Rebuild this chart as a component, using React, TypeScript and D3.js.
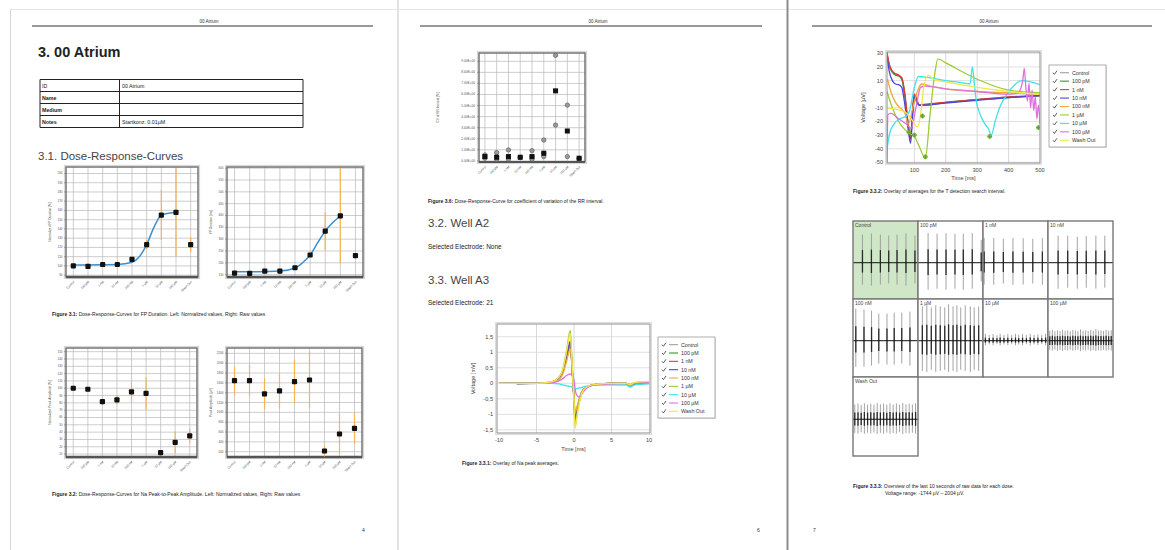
import React from "react";
import * as d3 from "d3";

const FONT = "'Liberation Sans', Arial, Helvetica, sans-serif";

const doses = ["Control", "100 pM", "1 nM", "10 nM", "100 nM", "1 µM", "10 µM", "100 µM", "Wash Out"];
const seriesColors = ["#a0a0a0", "#2e9a2e", "#e53a2f", "#4646e0", "#f5a83a", "#9acd32", "#3de3ea", "#e070e0", "#f4e64a"];

// Figure 3.1 left: normalized FP duration
const fpNormTicks = [90, 100, 110, 120, 130, 140, 150, 160, 170, 180, 190, 200];
const fpNormMean = [100, 99.5, 101.5, 101.5, 107, 123, 155, 158, 123];
const fpNormErr = [0, 0, 0, 0, 0, 5, 27, 48, 8];
const fpNormFitX = [0, 1, 2, 3, 4, 4.5, 5, 5.5, 6, 6.5, 7];
const fpNormFitY = [101, 101, 101.2, 101.5, 104, 110, 123, 142, 155, 157, 158];

// Figure 3.1 right: raw FP duration
const fpRawTicks = [150, 200, 250, 300, 350, 400, 450, 500, 550, 600];
const fpRawMean = [156, 155, 165, 165, 179, 233, 334, 398, 230];
const fpRawErr = [0, 0, 0, 0, 0, 0, 81, 200, 10];
const fpRawFitX = [0, 1, 2, 3, 4, 4.5, 5, 5.5, 6, 6.5, 7];
const fpRawFitY = [162, 162, 163, 165, 178, 200, 233, 285, 334, 370, 398];

// Figure 3.2 left: normalized Na peak-to-peak amplitude
const naNormTicks = [10, 20, 30, 40, 50, 60, 70, 80, 90, 100, 110, 120, 130, 140, 150];
const naNormMean = [100, 98.6, 81.7, 84, 95, 93, 12, 26, 35];
const naNormErr = [0, 0, 4, 6, 14, 22, 3, 15, 10];

// Figure 3.2 right: raw Na peak-to-peak amplitude
const naRawTicks = [200, 400, 600, 800, 1000, 1200, 1400, 1600, 1800, 2000, 2200];
const naRawMean = [1644, 1644, 1374, 1435, 1624, 1658, 214, 560, 676];
const naRawErr = [288, 320, 315, 356, 440, 575, 110, 407, 311];

// Figure 3.6: CV of RR interval
const cvTicks = [0, 1, 2, 3, 4, 5, 6, 7, 8, 9];
const cvMean = [0.39, 0.33, 0.39, 0.33, 0.39, 0.69, 6.33, 2.7, 0.24];
const cvSamples = [
  [0.54, 0.24, 0.39],
  [0.75, 0.39, 0.15],
  [0.99, 0.39, 0.15],
  [0.33, 0.3],
  [0.93, 0.39, 0.15],
  [1.89, 0.69, 0.39],
  [9.54, 3.24],
  [5.04, 0.39],
  [0.24, 0.2],
];

// Figure 3.3.1: Na peak averages (time in ms, voltage in mV)
const naTime = [-10, -7.8, -7.5, -5, -3, -2, -1.5, -1, -0.5, -0.25, 0, 0.15, 0.4, 0.7, 1, 1.5, 2, 3, 5, 7, 7.5, 8, 10];
const naControl = [0, 0, -0.03, 0, 0.03, 0.15, 0.35, 0.8, 1.2, 0.4, -0.5, -1.05, -0.8, -0.5, -0.3, -0.15, -0.08, -0.03, 0, 0, -0.08, -0.02, 0.02];
const na100pM = [0, 0, 0, 0, 0.03, 0.15, 0.35, 0.8, 1.25, 0.45, -0.5, -1.1, -0.85, -0.55, -0.3, -0.15, -0.08, -0.03, 0, -0.02, -0.1, -0.03, 0.03];
const na1nM = [0, 0, 0, 0, 0.04, 0.18, 0.4, 0.9, 1.3, 0.5, -0.6, -1.3, -0.95, -0.6, -0.35, -0.18, -0.1, -0.04, 0, 0, -0.06, 0, 0.04];
const na10nM = [0, 0, 0, 0, 0.04, 0.18, 0.4, 0.9, 1.35, 0.5, -0.55, -1.2, -0.9, -0.55, -0.3, -0.15, -0.08, -0.03, 0, 0, -0.05, 0, 0.03];
const na100nM = [0, 0, 0, 0, 0.03, 0.12, 0.3, 0.7, 1.1, 0.5, -0.4, -0.95, -0.75, -0.5, -0.3, -0.15, -0.08, -0.03, 0, 0, -0.05, 0, 0.03];
const na1uM = [0, 0, 0, 0, 0.05, 0.2, 0.45, 1.05, 1.7, 0.6, -0.6, -1.4, -1.0, -0.6, -0.3, -0.15, -0.08, -0.03, 0, 0, -0.05, 0.02, 0.05];
const na10uM = [0, 0, 0, 0, 0, -0.02, -0.05, -0.08, -0.1, -0.12, -0.15, -0.18, -0.17, -0.15, -0.13, -0.1, -0.08, -0.06, -0.05, -0.06, -0.12, -0.06, -0.02];
const na100uM = [0, 0, 0, 0, 0.02, 0.08, 0.15, 0.25, 0.3, 0.25, 0.1, -0.2, -0.4, -0.45, -0.35, -0.2, -0.1, -0.05, -0.02, 0, -0.04, 0, 0.02];
const naWash = [0, 0, 0, 0, 0.05, 0.2, 0.45, 1.0, 1.6, 0.6, -0.6, -1.45, -1.05, -0.65, -0.35, -0.15, -0.08, -0.03, 0, 0, -0.05, 0.02, 0.06];
const naSeries = [naControl, na100pM, na1nM, na10nM, na100nM, na1uM, na10uM, na100uM, naWash];
const naXTicks = [-10, -5, 0, 5, 10];
const naYTicks = [-1.5, -1, -0.5, 0, 0.5, 1, 1.5];

// Figure 3.3.2: T detection search interval ([time ms, voltage µV])
const tControl = [[13, 30], [20, 22], [30, 17], [40, 15], [50, 14], [60, 12], [70, 0], [80, -20], [88, -30], [95, -10], [100, 0], [108, -4], [115, -8], [130, -8], [200, -6], [300, -4], [400, -2], [500, -1]];
const t100pM = [[13, 29], [20, 21], [30, 16], [40, 14], [50, 13.5], [60, 11], [70, -2], [80, -22], [88, -32], [95, -12], [100, -1], [108, -5], [115, -8], [130, -8], [200, -6], [300, -4], [400, -2.5], [500, -1]];
const t1nM = [[13, 31], [20, 22], [30, 17], [40, 15], [50, 14], [60, 12], [70, 0], [80, -22], [88, -33], [95, -10], [100, 0], [108, -4], [115, -8], [130, -7.5], [200, -6], [300, -4], [400, -2], [500, -1]];
const t10nM = [[13, 28], [20, 17], [30, 10], [40, 7.5], [50, 7], [60, 5], [70, -8], [80, -25], [88, -36], [95, -14], [100, -2], [108, -6], [115, -8], [130, -8], [200, -6.5], [300, -4.5], [400, -2.5], [500, -1]];
const t100nM = [[15, 11], [25, 2], [40, -6], [55, -10], [70, -14], [81, -22], [95, -10], [113, 4], [123, 7.5], [150, 6], [200, 4], [300, 2], [400, 1], [500, 0]];
const t1uM = [[13, 2], [30, -10], [50, -20], [70, -26], [85, -29], [100, -31], [115, -38], [135, -47], [150, -15], [165, 15], [175, 26], [200, 23], [300, 11], [400, 3], [500, 1]];
const t10uM = [[13, -41], [20, -30], [35, -22], [55, -18], [75, -16], [85, -12], [100, 5], [113, 13], [150, 12], [200, 10], [250, 8.5], [277, 7.5], [285, 20], [292, 5], [298, -6], [310, -15], [325, -22], [335, -25], [345, -30], [357, -20], [375, -8], [398, 1], [420, 7], [440, 10], [470, 9], [500, 7]];
const t100uM = [[13, -50], [16, -15], [25, -14], [50, -18], [75, -22], [90, -25], [105, -10], [120, 5], [135, 6], [200, 4], [300, 2], [400, 0], [430, 1], [445, 10], [450, 19], [455, 5], [460, -5], [465, 8], [470, -10], [475, 3], [480, -12], [485, -2], [490, -18], [495, -8], [500, -22]];
const tWash = [[13, -10], [40, -11], [70, -13], [90, -18], [110, -24], [120, -15], [130, 5], [145, 14], [160, 11], [200, 9], [300, 5], [400, 2], [500, 0]];
const tSeries = [tControl, t100pM, t1nM, t10nM, t100nM, t1uM, t10uM, t100uM, tWash];
const tMarkers = [[83, -28], [100, -30], [126, -16], [135, -46], [340, -31], [495, -24.5]];
const tXTicks = [100, 200, 300, 400, 500];
const tYTicks = [30, 20, 10, 0, -10, -20, -30, -40, -50];

// Figure 3.3.3: raw data spikes per dose ([time s, up µV, down µV])
const rawControl = [[1.4, 1350, -1050], [2.8, 1400, -1100], [4.2, 1350, -1050], [5.5, 1300, -1000], [6.8, 1350, -1050], [8.2, 1400, -1100], [9.6, 1300, -1000]];
const raw100pM = [[1.5, 1430, -1300], [2.9, 1400, -1250], [4.3, 1420, -1300], [5.7, 1380, -1250], [7.0, 1400, -1300], [8.4, 1430, -1250], [9.8, 1100, -900]];
const raw1nM = [[0.1, 1200, -1050], [1.6, 1190, -1060], [3.1, 1150, -1000], [4.6, 1190, -1060], [6.2, 1180, -1050], [7.7, 1150, -1000], [9.2, 1190, -1060]];
const raw10nM = [[1.5, 1300, -1250], [3.0, 1300, -1200], [4.5, 1250, -1250], [5.9, 1280, -1200], [7.4, 1300, -1250], [8.8, 1300, -1200]];
const raw100nM = [[0.36, 1540, -1260], [1.64, 1500, -1250], [2.82, 1450, -1200], [3.95, 1300, -1100], [5.23, 1300, -1150], [6.36, 1350, -1150], [7.54, 1350, -1100], [8.82, 1400, -1200]];
const raw1uM = [[0.6, 1650, -1450], [1.3, 1700, -1500], [2.0, 1600, -1400], [2.7, 1700, -1500], [3.4, 1650, -1450], [4.1, 1600, -1400], [4.7, 1750, -1500], [5.4, 1650, -1450], [6.0, 1700, -1500], [6.6, 1600, -1400], [7.3, 1700, -1450], [8.1, 1650, -1500], [8.7, 1600, -1400], [9.4, 1650, -1450]];
const raw10uM = [[0.3, 330, -220], [0.9, 280, -180], [1.5, 320, -220], [2.1, 260, -160], [2.6, 330, -230], [3.2, 280, -180], [3.8, 320, -210], [4.4, 270, -170], [5.0, 330, -220], [5.5, 290, -190], [6.1, 320, -220], [6.7, 270, -170], [7.3, 330, -230], [7.9, 280, -180], [8.5, 310, -210], [9.1, 270, -170], [9.7, 330, -220]];
const raw100uM = [[0.2, 480, -450], [0.6, 520, -470], [1.0, 460, -430], [1.4, 500, -480], [1.8, 470, -440], [2.2, 530, -490], [2.6, 480, -450], [3.0, 500, -470], [3.4, 460, -430], [3.8, 520, -480], [4.2, 490, -460], [4.6, 470, -440], [5.0, 540, -500], [5.4, 480, -450], [5.8, 500, -470], [6.2, 470, -430], [6.6, 520, -490], [7.0, 480, -450], [7.4, 560, -500], [7.8, 490, -460], [8.2, 500, -470], [8.6, 470, -440], [9.0, 520, -480], [9.4, 480, -450], [9.8, 500, -470]];
const rawWash = [[0.2, 700, -650], [0.7, 750, -680], [1.2, 680, -620], [1.7, 760, -690], [2.2, 700, -640], [2.7, 740, -670], [3.2, 690, -630], [3.7, 770, -700], [4.2, 710, -650], [4.7, 740, -680], [5.2, 690, -630], [5.7, 760, -690], [6.2, 700, -650], [6.7, 750, -680], [7.2, 690, -620], [7.7, 770, -700], [8.2, 710, -650], [8.7, 740, -670], [9.2, 700, -640], [9.7, 760, -690]];
const rawSpikes = [rawControl, raw100pM, raw1nM, raw10nM, raw100nM, raw1uM, raw10uM, raw100uM, rawWash];
const rawVoltRange = [-1744, 2004];

const commaFmt = (v: number) => String(v).replace(".", ",");

function DoseChart(p: any) {
  const { x0, y0, x1, y1, domain, ticks, mean, err, fitX, fitY, yLabel } = p;
  const x = d3.scalePoint<string>().domain(doses).range([x0, x1]).padding(0.5);
  const y = d3.scaleLinear().domain(domain).range([y1, y0]).clamp(true);
  const xi = (i: number) => (x(doses[0]) as number) + i * x.step();
  const fit = fitX
    ? d3.line<number>().x((_d, i) => xi(fitX[i])).y((d) => y(d)).curve(d3.curveMonotoneX)(fitY)
    : null;
  return (
    <g>
      <rect x={x0 - 1.6} y={y0 - 1.6} width={x1 - x0 + 3.2} height={y1 - y0 + 3.2} fill="none" stroke="#d4d4d4" strokeWidth={1} />
      <rect x={x0} y={y0} width={x1 - x0} height={y1 - y0} fill="#fff" />
      {ticks.map((t: number) => (
        <line key={"h" + t} x1={x0} x2={x1} y1={y(t)} y2={y(t)} stroke="#b8b8b8" strokeWidth={0.7} />
      ))}
      {doses.map((d) => (
        <line key={"v" + d} x1={x(d)} x2={x(d)} y1={y0} y2={y1} stroke="#b8b8b8" strokeWidth={0.7} />
      ))}
      <rect x={x0} y={y0} width={x1 - x0} height={y1 - y0} fill="none" stroke="#6a6a6a" strokeWidth={1.4} />
      <line x1={x0} x2={x1} y1={y1} y2={y1} stroke="#555" strokeWidth={2.4} />
      {ticks.map((t: number) => (
        <g key={"t" + t}>
          <line x1={x0 - 2} x2={x0} y1={y(t)} y2={y(t)} stroke="#666" strokeWidth={0.5} />
          <text x={x0 - 3.5} y={y(t) + 1} fontSize={3} fill="#555" textAnchor="end">{t}</text>
        </g>
      ))}
      {mean.map((m: number, i: number) =>
        err[i] > 0 ? (
          <line key={"e" + i} x1={x(doses[i])} x2={x(doses[i])} y1={y(m + err[i])} y2={y(m - err[i])} stroke="#f7b450" strokeWidth={1.2} />
        ) : null
      )}
      {fit && <path d={fit} fill="none" stroke="#3b8fd0" strokeWidth={1.5} />}
      {mean.map((m: number, i: number) => (
        <rect key={"p" + i} x={(x(doses[i]) as number) - 2.6} y={y(m) - 2.6} width={5.2} height={5.2} rx={1} fill="#111" />
      ))}
      {doses.map((d) => (
        <text key={"l" + d} transform={`translate(${(x(d) as number) + 1.5},${y1 + 5}) rotate(-45)`} fontSize={3.2} fill="#555" textAnchor="end">{d}</text>
      ))}
      <text transform={`translate(${x0 - 15},${(y0 + y1) / 2}) rotate(-90)`} fontSize={3.2} fill="#444" textAnchor="middle">{yLabel}</text>
    </g>
  );
}

function CvChart(p: any) {
  const { x0, y0, x1, y1 } = p;
  const x = d3.scalePoint<string>().domain(doses).range([x0, x1]).padding(0.5);
  const y = d3.scaleLinear().domain([-0.1, 9.75]).range([y1, y0]);
  return (
    <g>
      <rect x={x0 - 1.6} y={y0 - 1.6} width={x1 - x0 + 3.2} height={y1 - y0 + 3.2} fill="none" stroke="#d4d4d4" strokeWidth={1} />
      {cvTicks.map((t) => (
        <line key={"h" + t} x1={x0} x2={x1} y1={y(t)} y2={y(t)} stroke="#b8b8b8" strokeWidth={0.7} />
      ))}
      {doses.map((d) => (
        <line key={"v" + d} x1={x(d)} x2={x(d)} y1={y0} y2={y1} stroke="#b8b8b8" strokeWidth={0.7} />
      ))}
      <rect x={x0} y={y0} width={x1 - x0} height={y1 - y0} fill="none" stroke="#6a6a6a" strokeWidth={1.4} />
      <line x1={x0} x2={x1} y1={y1} y2={y1} stroke="#555" strokeWidth={2.2} />
      {cvTicks.map((t) => (
        <g key={"t" + t}>
          <line x1={x0 - 2} x2={x0} y1={y(t)} y2={y(t)} stroke="#666" strokeWidth={0.5} />
          <text x={x0 - 4} y={y(t) + 1} fontSize={3.2} fill="#555" textAnchor="end">{t.toFixed(2) + "E+00"}</text>
        </g>
      ))}
      {cvSamples.map((arr, i) =>
        arr.map((v, k) => (
          <circle key={i + "-" + k} cx={x(doses[i])} cy={y(v)} r={2.2} fill="#9a9a9a" stroke="#555" strokeWidth={0.6} />
        ))
      )}
      {cvMean.map((m, i) => (
        <rect key={"m" + i} x={(x(doses[i]) as number) - 2.5} y={y(m) - 2.5} width={5} height={5} fill="#111" />
      ))}
      {doses.map((d) => (
        <text key={"l" + d} transform={`translate(${(x(d) as number) + 1.5},${y1 + 5}) rotate(-45)`} fontSize={3.2} fill="#555" textAnchor="end">{d}</text>
      ))}
      <text transform={`translate(${x0 - 40},${(y0 + y1) / 2}) rotate(-90)`} fontSize={3.2} fill="#444" textAnchor="middle">CV of RR Interval [%]</text>
    </g>
  );
}

function Overlay(p: any) {
  const { id, x0, y0, x1, y1, xDomain, yDomain, xTicks, yTicks, xGrid, yGrid, fmtY, series, markers, yLabel, xLabelY, yLabelX } = p;
  const x = d3.scaleLinear().domain(xDomain).range([x0, x1]);
  const y = d3.scaleLinear().domain(yDomain).range([y1, y0]);
  const line = d3.line<any>().x((d) => x(d[0])).y((d) => y(d[1])).curve(d3.curveMonotoneX);
  return (
    <g>
      <defs>
        <clipPath id={id}>
          <rect x={x0} y={y0} width={x1 - x0} height={y1 - y0} />
        </clipPath>
      </defs>
      <rect x={x0 - 1.5} y={y0 - 1.5} width={x1 - x0 + 3} height={y1 - y0 + 3} fill="none" stroke="#dcdcdc" strokeWidth={1} />
      <rect x={x0} y={y0} width={x1 - x0} height={y1 - y0} fill="#fff" />
      {xGrid.map((t: number) => (
        <line key={"gx" + t} x1={x(t)} x2={x(t)} y1={y0} y2={y1} stroke="#cfcfcf" strokeWidth={0.8} />
      ))}
      {yGrid.map((t: number) => (
        <line key={"gy" + t} x1={x0} x2={x1} y1={y(t)} y2={y(t)} stroke="#d8d8d8" strokeWidth={0.8} />
      ))}
      <g clipPath={`url(#${id})`}>
        {series.map((s: any, i: number) => (
          <path key={"s" + i} d={line(s) as string} fill="none" stroke={seriesColors[i]} strokeWidth={1.3} />
        ))}
        {(markers || []).map((m: any, i: number) => (
          <g key={"m" + i} transform={`translate(${x(m[0])},${y(m[1])})`}>
            <circle r={2} fill="#8fd14f" stroke="#5a9a2a" strokeWidth={0.5} />
            <path d="M-2.3,0H2.3M0,-2.3V2.3" stroke="#4d8a22" strokeWidth={0.6} />
          </g>
        ))}
      </g>
      <rect x={x0} y={y0} width={x1 - x0} height={y1 - y0} fill="none" stroke="#8c8c8c" strokeWidth={1} />
      {yTicks.map((t: number) => (
        <text key={"ty" + t} x={x0 - 4} y={y(t) + 2} fontSize={5.6} fill="#444" textAnchor="end">{fmtY(t)}</text>
      ))}
      {xTicks.map((t: number) => (
        <text key={"tx" + t} x={x(t)} y={y1 + 8.5} fontSize={5.6} fill="#444" textAnchor="middle">{t}</text>
      ))}
      <text transform={`translate(${yLabelX},${(y0 + y1) / 2}) rotate(-90)`} fontSize={5.6} fill="#444" textAnchor="middle">{yLabel}</text>
      <text x={(x0 + x1) / 2} y={xLabelY} fontSize={5.6} fill="#444" textAnchor="middle">Time [ms]</text>
    </g>
  );
}

function Legend(p: any) {
  const { x, y, w, h } = p;
  const step = (h - 6) / doses.length;
  return (
    <g>
      <rect x={x + 1} y={y + 1} width={w} height={h} fill="#e6e6e6" />
      <rect x={x} y={y} width={w} height={h} fill="#fff" stroke="#999" strokeWidth={0.8} />
      {doses.map((d, i) => {
        const cy = y + 4.5 + step * i + step / 2 - 1;
        return (
          <g key={d}>
            <path d={`M${x + 4},${cy} l1.4,1.6 l2.6,-3.6`} fill="none" stroke="#333" strokeWidth={0.8} />
            <line x1={x + 11} x2={x + 20} y1={cy} y2={cy} stroke={seriesColors[i]} strokeWidth={1.1} />
            <text x={x + 23} y={cy + 1.9} fontSize={5.3} fill="#333">{d}</text>
          </g>
        );
      })}
    </g>
  );
}

function RawGrid() {
  const xs = [853, 918, 983, 1048, 1113];
  const ys = [221, 299, 377, 456];
  return (
    <g>
      {doses.map((d, i) => {
        const c = i % 4;
        const r = Math.floor(i / 4);
        const left = xs[c];
        const right = xs[c + 1];
        const top = ys[r];
        const bottom = ys[r + 1];
        const tx = d3.scaleLinear().domain([0, 10]).range([left + 0.5, right - 0.5]);
        const vy = d3.scaleLinear().domain(rawVoltRange).range([bottom, top]);
        return (
          <g key={d}>
            <rect x={left} y={top} width={right - left} height={bottom - top} fill={i === 0 ? "#cfe7c6" : "#fff"} />
            {rawSpikes[i].map(([t, u, dn], k) => (
              <g key={k}>
                <line x1={tx(t)} x2={tx(t)} y1={vy(u)} y2={vy(dn)} stroke="#9a9a9a" strokeWidth={0.9} />
                <line x1={tx(t)} x2={tx(t)} y1={vy(u * 0.45)} y2={vy(dn * 0.45)} stroke="#2a2a2a" strokeWidth={1.3} />
              </g>
            ))}
            <line x1={left} x2={right} y1={vy(0)} y2={vy(0)} stroke="#111" strokeWidth={1} />
            <rect x={left} y={top} width={right - left} height={bottom - top} fill="none" stroke="#777" strokeWidth={1.4} />
            <text x={left + 2} y={top + 6} fontSize={5} fill="#444">{d}</text>
          </g>
        );
      })}
    </g>
  );
}

function Caption({ x, y, bold, text }: any) {
  return (
    <text x={x} y={y} fontSize={5} fill="#222">
      <tspan fontWeight="bold">{bold}</tspan> {text}
    </text>
  );
}

export default function App() {
  return (
    <svg width={1165} height={550} style={{ position: "absolute", left: 0, top: 0 }} fontFamily={FONT}>
      <rect width={1165} height={550} fill="#fff" />
      {/* page edges */}
      <line x1={10} x2={1165} y1={9.5} y2={9.5} stroke="#e6e6e6" strokeWidth={1} />
      <line x1={10.5} x2={10.5} y1={9.5} y2={550} stroke="#d6d6d6" strokeWidth={1} />
      <line x1={398} x2={398} y1={0} y2={550} stroke="#e2e2e2" strokeWidth={2} />
      <line x1={787.5} x2={787.5} y1={0} y2={550} stroke="#8c8c8c" strokeWidth={2} />

      {/* ---------- Page 1 ---------- */}
      <text x={209} y={23} fontSize={4.5} fill="#333" textAnchor="middle">00 Atrium</text>
      <line x1={32} x2={373} y1={26} y2={26} stroke="#333" strokeWidth={1} />
      <text x={38} y={57} fontSize={14.5} fontWeight="bold" fill="#222">3. 00 Atrium</text>
      <g>
        {[79.5, 91.5, 103.5, 115.5, 127.5].map((yy) => (
          <line key={yy} x1={40} x2={303} y1={yy} y2={yy} stroke="#222" strokeWidth={1} />
        ))}
        <line x1={40} x2={40} y1={79.5} y2={127.5} stroke="#222" strokeWidth={1} />
        <line x1={119.5} x2={119.5} y1={79.5} y2={127.5} stroke="#222" strokeWidth={1} />
        <line x1={303} x2={303} y1={79.5} y2={127.5} stroke="#222" strokeWidth={1} />
        <text x={42} y={88} fontSize={5.3} fill="#222">ID</text>
        <text x={122} y={88} fontSize={5.3} fill="#222">00 Atrium</text>
        <text x={42} y={100} fontSize={5.3} fontWeight="bold" fill="#222">Name</text>
        <text x={42} y={112} fontSize={5.3} fontWeight="bold" fill="#222">Medium</text>
        <text x={42} y={124} fontSize={5.3} fontWeight="bold" fill="#222">Notes</text>
        <text x={122} y={124} fontSize={5.3} fill="#222">Startkonz. 0.01µM</text>
      </g>
      <text x={38} y={160} fontSize={11.5} fill="#444">3.1. Dose-Response-Curves</text>

      <DoseChart x0={66} y0={167} x1={198} y1={277} domain={[88, 207]} ticks={fpNormTicks} mean={fpNormMean} err={fpNormErr} fitX={fpNormFitX} fitY={fpNormFitY} yLabel="Normalized FP Duration [%]" />
      <DoseChart x0={227} y0={167} x1={363} y1={277} domain={[140, 605]} ticks={fpRawTicks} mean={fpRawMean} err={fpRawErr} fitX={fpRawFitX} fitY={fpRawFitY} yLabel="FP Duration [ms]" />
      <Caption x={52} y={316} bold="Figure 3.1:" text="Dose-Response-Curves for FP Duration. Left: Normalized values, Right: Raw values" />

      <DoseChart x0={66} y0={348} x1={197} y1={457} domain={[6, 155]} ticks={naNormTicks} mean={naNormMean} err={naNormErr} yLabel="Normalized Peak Amplitude [%]" />
      <DoseChart x0={227} y0={348} x1={362} y1={457} domain={[92, 2309]} ticks={naRawTicks} mean={naRawMean} err={naRawErr} yLabel="Peak Amplitude [µV]" />
      <Caption x={52} y={496} bold="Figure 3.2:" text="Dose-Response-Curves for Na Peak-to-Peak Amplitude. Left: Normalized values, Right: Raw values" />
      <text x={362} y={532} fontSize={5} fill="#333">4</text>

      {/* ---------- Page 2 ---------- */}
      <text x={598} y={23} fontSize={4.5} fill="#333" textAnchor="middle">00 Atrium</text>
      <line x1={420} x2={762} y1={26} y2={26} stroke="#333" strokeWidth={1} />
      <CvChart x0={479} y0={53} x1={585} y1={162} />
      <Caption x={428} y={203} bold="Figure 3.6:" text="Dose-Response-Curve for coefficient of variation of the RR interval." />
      <text x={428} y={227} fontSize={11.5} fill="#444">3.2. Well A2</text>
      <text x={428} y={248.5} fontSize={6.5} fill="#222">Selected Electrode: None</text>
      <text x={428} y={283.5} fontSize={11.5} fill="#444">3.3. Well A3</text>
      <text x={428} y={305} fontSize={6.5} fill="#222">Selected Electrode: 21</text>
      <Overlay id="clipNa" x0={497} y0={324} x1={650} y1={433} xDomain={[-10.27, 10.13]} yDomain={[-1.6, 1.91]}
        xTicks={naXTicks} yTicks={naYTicks} xGrid={[-5, 0, 5]} yGrid={naYTicks} fmtY={commaFmt}
        series={naSeries.map((vals) => vals.map((v, k) => [naTime[k], v]))}
        yLabel="Voltage [mV]" yLabelX={475} xLabelY={451} />
      <Legend x={658} y={337} w={57} h={81} />
      <Caption x={462} y={465} bold="Figure 3.3.1:" text="Overlay of Na peak averages." />
      <text x={757} y={532} fontSize={5} fill="#333">6</text>

      {/* ---------- Page 3 ---------- */}
      <text x={989} y={23} fontSize={4.5} fill="#333" textAnchor="middle">00 Atrium</text>
      <line x1={812} x2={1152} y1={26} y2={26} stroke="#333" strokeWidth={1} />
      <Overlay id="clipT" x0={887} y0={52} x1={1040} y1={163} xDomain={[13, 500]} yDomain={[-50.5, 31]}
        xTicks={tXTicks} yTicks={tYTicks} xGrid={[100, 200, 300, 400]} yGrid={tYTicks} fmtY={(v: number) => String(v)}
        series={tSeries} markers={tMarkers}
        yLabel="Voltage [µV]" yLabelX={865} xLabelY={179.5} />
      <Legend x={1049} y={65} w={57} h={82} />
      <Caption x={853} y={193} bold="Figure 3.3.2:" text="Overlay of averages for the T detection search interval." />
      <RawGrid />
      <Caption x={853} y={487.5} bold="Figure 3.3.3:" text="Overview of the last 10 seconds of raw data for each dose." />
      <text x={885} y={495} fontSize={5} fill="#222">Voltage range: -1744 µV – 2004 µV.</text>
      <text x={813} y={532} fontSize={5} fill="#333">7</text>
    </svg>
  );
}
